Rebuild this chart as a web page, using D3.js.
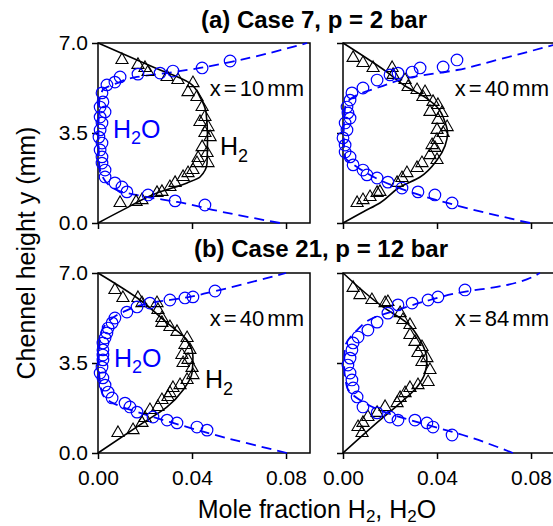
<!DOCTYPE html>
<meta charset="utf-8">
<style>
body { margin: 0; background: #fff; }
svg text { font-family: "Liberation Sans", Arial, sans-serif; }
.axis text { font-size: 21px; fill: #000; }
.axis line { stroke: #000; stroke-width: 1.5px; }
.frame { fill: none; stroke: #000; stroke-width: 1.5px; }
</style>
<body>
<svg width="553" height="526"></svg>
<script src="https://cdn.jsdelivr.net/npm/d3@7/dist/d3.min.js"></script>
<script>

// tick values
var xTicks = [0, 0.04, 0.08];
var yTicks = [0, 3.5, 7];

// (a) Case 7, x = 10 mm   -- [mole fraction, y (mm)]
var a10_h2 = [[0.0102,6.34],[0.0170,6.15],[0.0200,6.03],[0.0213,5.87],[0.0294,5.68],[0.0340,5.56],[0.0404,5.44],[0.0383,5.09],[0.0421,4.90],[0.0443,4.51],[0.0455,4.12],[0.0434,3.93],[0.0468,3.73],[0.0455,3.50],[0.0477,3.34],[0.0443,2.95],[0.0464,2.72],[0.0426,2.53],[0.0468,2.33],[0.0421,2.33],[0.0404,2.06],[0.0383,1.94],[0.0362,1.79],[0.0328,1.56],[0.0306,1.40],[0.0272,1.21],[0.0251,1.17],[0.0187,0.89],[0.0162,0.82],[0.0094,0.78]];
var a10_h2o = [[0.0562,6.30],[0.0443,6.03],[0.0319,5.91],[0.0264,5.83],[0.0170,5.79],[0.0094,5.68],[0.0072,5.48],[0.0038,5.37],[0.0017,5.06],[0.0021,4.71],[0.0009,4.51],[0.0030,4.32],[0.0009,4.12],[0.0017,3.89],[0.0009,3.62],[0.0004,3.34],[0.0017,3.11],[0.0009,2.84],[0.0017,2.57],[0.0017,2.33],[0.0030,2.06],[0.0030,1.79],[0.0072,1.56],[0.0102,1.40],[0.0123,1.21],[0.0213,1.09],[0.0328,0.86],[0.0455,0.70]];
var a10_h2Model = [[0,0],[0.0106,0.51],[0.0251,1.17],[0.0379,1.56],[0.0434,1.79],[0.0464,2.33],[0.0466,3.34],[0.0460,4.28],[0.0434,4.9],[0.0391,5.44],[0.0234,6.07],[0,7]];
var a10_h2oModel = [[0.0774,0],[0.053,0.43],[0.0336,0.82],[0.0209,1.01],[0.0081,1.28],[0.002,1.79],[0.0005,2.3],[0.0002,3.5],[0.0005,4.67],[0.002,5.17],[0.0081,5.44],[0.0166,5.68],[0.029,5.83],[0.0434,6.03],[0.0562,6.26],[0.089,7.0]];

// (a) Case 7, x = 40 mm
var a40_h2 = [[0.0043,6.42],[0.0085,6.22],[0.0128,6.03],[0.0209,6.03],[0.0213,5.76],[0.0264,5.56],[0.0277,5.29],[0.0315,5.17],[0.0349,5.09],[0.0340,4.90],[0.0383,4.71],[0.0404,4.59],[0.0370,4.32],[0.0421,4.28],[0.0404,4.01],[0.0443,3.73],[0.0400,3.62],[0.0426,3.50],[0.0400,3.23],[0.0379,3.03],[0.0391,2.92],[0.0370,2.64],[0.0400,2.45],[0.0336,2.33],[0.0315,2.14],[0.0272,1.94],[0.0251,1.75],[0.0230,1.56],[0.0157,1.21],[0.0145,1.17],[0.0115,1.01],[0.0085,0.89],[0.0060,0.78]];
var a40_h2o = [[0.0485,6.34],[0.0426,6.07],[0.0328,6.03],[0.0294,5.87],[0.0234,5.83],[0.0200,5.76],[0.0145,5.56],[0.0085,5.25],[0.0038,5.06],[0.0030,4.78],[0.0017,4.51],[0.0021,4.28],[0.0030,4.08],[0.0009,3.89],[0.0017,3.62],[0.0000,3.31],[0.0009,3.03],[0.0009,2.76],[0.0030,2.57],[0.0043,2.26],[0.0085,2.06],[0.0102,1.87],[0.0145,1.75],[0.0191,1.59],[0.0251,1.36],[0.0319,1.21],[0.0391,1.09],[0.0464,0.78]];
var a40_h2Model = [[0,0],[0.0085,0.43],[0.0157,0.78],[0.0243,1.40],[0.0328,1.79],[0.0400,2.45],[0.0434,3.0],[0.0445,3.5],[0.0435,3.9],[0.0400,4.51],[0.0330,5.0],[0.0272,5.29],[0.0187,5.87],[0,7]];
var a40_h2oModel = [[0.0796,0],[0.051,0.62],[0.0298,1.17],[0.0157,1.67],[0.006,2.18],[0.0009,2.57],[0.0003,3.5],[0.0009,4.51],[0.006,4.98],[0.0157,5.29],[0.0298,5.68],[0.0485,5.95],[0.0655,6.34],[0.0894,6.92]];

// (b) Case 21, x = 40 mm
var b40_h2 = [[0.0072,6.34],[0.0106,6.03],[0.0170,6.03],[0.0187,5.83],[0.0251,5.83],[0.0255,5.56],[0.0272,5.25],[0.0272,5.06],[0.0306,4.90],[0.0336,4.71],[0.0379,4.47],[0.0370,4.20],[0.0391,4.01],[0.0357,3.81],[0.0383,3.62],[0.0362,3.50],[0.0400,3.31],[0.0404,3.03],[0.0379,2.84],[0.0349,2.64],[0.0319,2.53],[0.0306,2.33],[0.0298,2.18],[0.0272,2.06],[0.0255,1.79],[0.0221,1.67],[0.0200,1.36],[0.0187,1.17],[0.0149,0.89],[0.0085,0.78]];
var b40_h2o = [[0.0498,6.30],[0.0404,6.07],[0.0370,6.03],[0.0306,5.95],[0.0221,5.83],[0.0166,5.68],[0.0123,5.48],[0.0072,5.25],[0.0060,5.06],[0.0043,4.86],[0.0038,4.67],[0.0030,4.47],[0.0021,4.28],[0.0021,4.01],[0.0021,3.81],[0.0021,3.62],[0.0017,3.34],[0.0009,3.11],[0.0021,2.92],[0.0030,2.64],[0.0043,2.37],[0.0060,2.14],[0.0115,1.94],[0.0136,1.79],[0.0166,1.59],[0.0234,1.40],[0.0294,1.28],[0.0336,1.17],[0.0421,1.01],[0.0464,0.89]];
var b40_h2Model = [[0,0],[0.0191,1.17],[0.0294,1.79],[0.0362,2.45],[0.0400,3.11],[0.0404,3.73],[0.0379,4.39],[0.0294,5.06],[0.0179,5.95],[0,7]];
var b40_h2oModel = [[0.0804,0],[0.0532,0.62],[0.0319,1.17],[0.0179,1.56],[0.0064,1.94],[0.0017,2.33],[0.0003,3.5],[0.0009,4.51],[0.0038,5.06],[0.0106,5.48],[0.0221,5.83],[0.039,6.07],[0.050,6.30],[0.080,7.0]];

// (b) Case 21, x = 84 mm
var b84_h2 = [[0.0043,6.42],[0.0072,6.14],[0.0123,5.95],[0.0179,5.83],[0.0191,5.87],[0.0243,5.44],[0.0255,5.17],[0.0285,4.98],[0.0285,4.59],[0.0306,4.32],[0.0336,4.12],[0.0319,3.89],[0.0357,3.69],[0.0336,3.54],[0.0370,3.23],[0.0362,2.76],[0.0319,2.64],[0.0285,2.53],[0.0264,2.33],[0.0243,2.14],[0.0230,1.94],[0.0179,1.79],[0.0145,1.56],[0.0106,1.40],[0.0085,1.17],[0.0064,1.01],[0.0081,0.78]];
var b84_h2o = [[0.0519,6.34],[0.0404,6.07],[0.0362,5.95],[0.0294,5.83],[0.0234,5.76],[0.0191,5.44],[0.0145,5.09],[0.0106,4.78],[0.0064,4.51],[0.0043,4.28],[0.0038,4.01],[0.0030,3.69],[0.0021,3.42],[0.0030,3.11],[0.0038,2.84],[0.0043,2.53],[0.0060,2.18],[0.0085,1.79],[0.0145,1.56],[0.0200,1.40],[0.0234,1.28],[0.0306,1.28],[0.0357,1.17],[0.0383,1.01],[0.0464,0.70]];
var b84_h2Model = [[0,0],[0.0157,1.28],[0.0243,1.94],[0.0315,2.57],[0.0349,3.11],[0.0357,3.62],[0.0328,4.39],[0.0272,5.06],[0.0170,5.68],[0,7]];
var b84_h2oModel = [[0.0723,0],[0.051,0.70],[0.0328,1.17],[0.0187,1.56],[0.0072,2.06],[0.0017,2.57],[0.0005,3.4],[0.0009,4.12],[0.006,4.78],[0.0128,5.25],[0.023,5.56],[0.037,5.95],[0.051,6.26],[0.0655,6.46],[0.0838,7.0]];

var svg = d3.select("svg");
var pw = 212, ph = 180;
var blue = "#0000ff";

var panels = [
  {x0: 98,  y0: 43,  label: "x = 10 mm", h2: a10_h2, h2o: a10_h2o, h2m: a10_h2Model, h2om: a10_h2oModel, left: true,  bottom: false, tag: [113, 138, 220, 155]},
  {x0: 343, y0: 43,  label: "x = 40 mm", h2: a40_h2, h2o: a40_h2o, h2m: a40_h2Model, h2om: a40_h2oModel, left: false, bottom: false},
  {x0: 98,  y0: 273, label: "x = 40 mm", h2: b40_h2, h2o: b40_h2o, h2m: b40_h2Model, h2om: b40_h2oModel, left: true,  bottom: true, tag: [114, 367, 205, 388]},
  {x0: 343, y0: 273, label: "x = 84 mm", h2: b84_h2, h2o: b84_h2o, h2m: b84_h2Model, h2om: b84_h2oModel, left: false, bottom: true}
];

var tri = d3.symbol().type(d3.symbolTriangle).size(64);

panels.forEach(function(p) {
  var x = d3.scaleLinear().domain([0, 0.0902]).range([p.x0, p.x0 + pw]);
  var y = d3.scaleLinear().domain([0, 7]).range([p.y0 + ph, p.y0]);

  var g = svg.append("g");

  g.append("g")
      .attr("class", "axis")
      .attr("transform", "translate(0," + (p.y0 + ph) + ")")
      .call(d3.axisBottom(x).tickValues(xTicks).tickSize(6).tickPadding(11)
        .tickFormat(p.bottom ? d3.format(".2f") : ""))
      .call(function(s) { s.select(".domain").remove(); s.selectAll("text").attr("font-family", null).attr("font-size", null); });

  g.append("g")
      .attr("class", "axis")
      .attr("transform", "translate(" + p.x0 + ",0)")
      .call(d3.axisLeft(y).tickValues(yTicks).tickSize(6).tickPadding(4)
        .tickFormat(p.left ? d3.format(".1f") : ""))
      .call(function(s) { s.select(".domain").remove(); s.selectAll("text").attr("font-family", null).attr("font-size", null); });

  g.append("rect").attr("class", "frame")
      .attr("x", p.x0).attr("y", p.y0).attr("width", pw).attr("height", ph);

  var line = d3.line()
      .x(function(d) { return x(d[0]); })
      .y(function(d) { return y(d[1]); })
      .curve(d3.curveMonotoneY);

  g.append("path").datum(p.h2m)
      .attr("d", line)
      .attr("fill", "none").attr("stroke", "#000").attr("stroke-width", 1.6);

  g.append("path").datum(p.h2om)
      .attr("d", line)
      .attr("fill", "none").attr("stroke", blue).attr("stroke-width", 1.8)
      .attr("stroke-dasharray", "10,6");

  g.selectAll(".tri").data(p.h2).enter().append("path")
      .attr("transform", function(d) { return "translate(" + x(d[0]) + "," + y(d[1]) + ")"; })
      .attr("d", tri)
      .attr("fill", "none").attr("stroke", "#000").attr("stroke-width", 1.1);

  g.selectAll(".circ").data(p.h2o).enter().append("circle")
      .attr("cx", function(d) { return x(d[0]); })
      .attr("cy", function(d) { return y(d[1]); })
      .attr("r", 5.8)
      .attr("fill", "none").attr("stroke", blue).attr("stroke-width", 1.2);

  g.append("text")
      .attr("x", p.x0 + 206).attr("y", p.y0 + 53)
      .attr("text-anchor", "end")
      .attr("font-size", 22).attr("word-spacing", -3)
      .text(p.label);

  if (p.tag) {
    var t1 = g.append("text").attr("x", p.tag[0]).attr("y", p.tag[1])
        .attr("font-size", 25).attr("fill", blue);
    t1.append("tspan").text("H");
    t1.append("tspan").attr("font-size", 18).attr("dy", 6).text("2");
    t1.append("tspan").attr("dy", -6).text("O");

    var t2 = g.append("text").attr("x", p.tag[2]).attr("y", p.tag[3])
        .attr("font-size", 25).attr("fill", "#000");
    t2.append("tspan").text("H");
    t2.append("tspan").attr("font-size", 18).attr("dy", 7).text("2");
  }
});

// titles
svg.append("text").attr("x", 314).attr("y", 28).attr("text-anchor", "middle")
    .attr("font-size", 24).attr("font-weight", "bold").text("(a) Case 7, p = 2 bar");
svg.append("text").attr("x", 321).attr("y", 257).attr("text-anchor", "middle")
    .attr("font-size", 24).attr("font-weight", "bold").text("(b) Case 21, p = 12 bar");

// axis titles
var xl = svg.append("text").attr("x", 317).attr("y", 518).attr("text-anchor", "middle")
    .attr("font-size", 25);
xl.append("tspan").text("Mole fraction H");
xl.append("tspan").attr("font-size", 17).attr("dy", 4).text("2");
xl.append("tspan").attr("dy", -4).text(", H");
xl.append("tspan").attr("font-size", 17).attr("dy", 4).text("2");
xl.append("tspan").attr("dy", -4).text("O");

svg.append("text")
    .attr("transform", "translate(35,253) rotate(-90)")
    .attr("text-anchor", "middle")
    .attr("font-size", 25)
    .text("Chennel height y (mm)");

</script>
</body>
